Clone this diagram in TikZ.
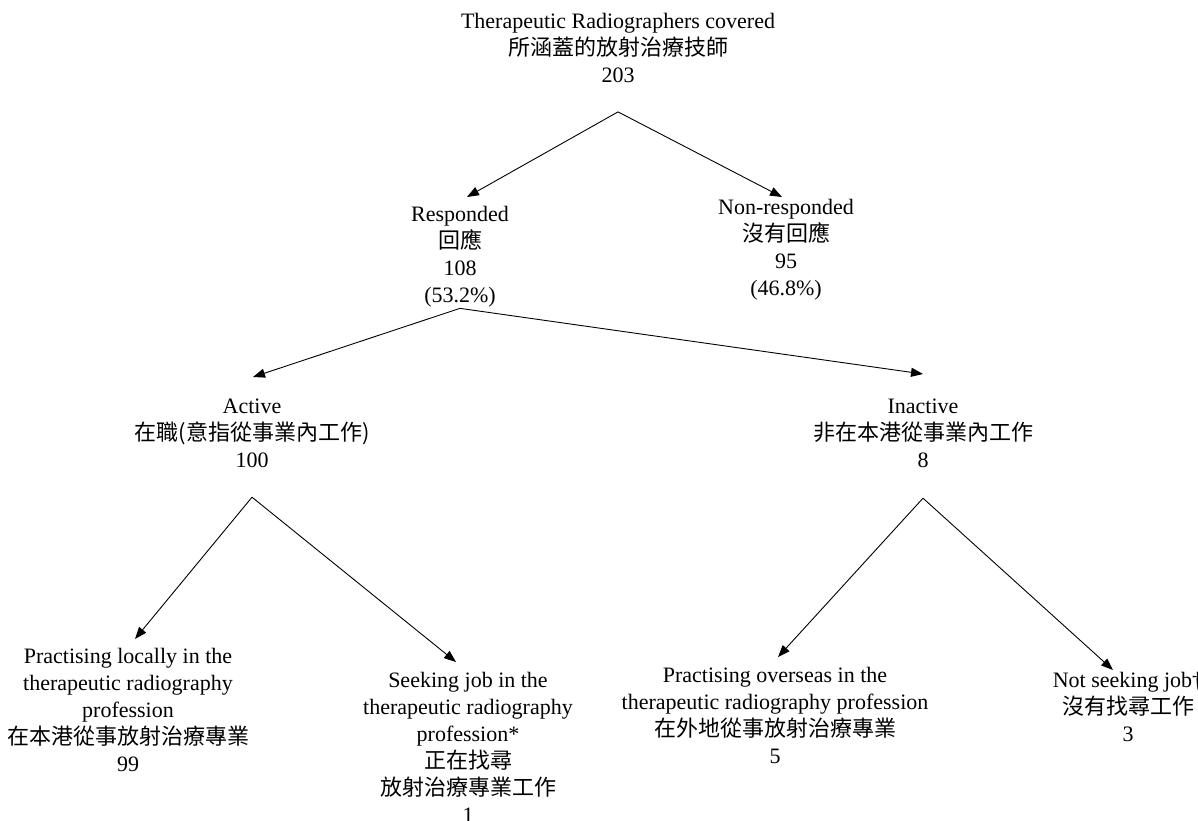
\documentclass[tikz,border=0pt]{standalone}
\usepackage{fontspec}
\setmainfont{Liberation Serif}
\newfontfamily\cjk{Noto Sans CJK TC}
\usepackage{tikz}
\usetikzlibrary{arrows,arrows.meta,calc,positioning}
\newcommand{\zh}[1]{{\cjk #1}}

\begin{document}
\begin{tikzpicture}[x=1pt, y=-1pt,
    box/.style={anchor=north, align=center, inner sep=0pt,
        font=\fontsize{22}{27}\selectfont},
    link/.style={-{Triangle[length=12pt,width=9pt]}, line width=0.9pt}]
\useasboundingbox (0,0) rectangle (1198,820);
%%%%%%%%%%%%%%%%% level 0
\node[box] (total) at (618,13) {Therapeutic Radiographers covered\\ \zh{所涵蓋的放射治療技師}\\ 203};
%%%%%%%%%%%%%%%%% level 1
\node[box] (resp) at (460,206) {Responded\\ \zh{回應}\\ 108\\ (53.2\%)};
\node[box] (nonresp) at (786,199) {Non-responded\\ \zh{沒有回應}\\ 95\\ (46.8\%)};
%%%%%%%%%%%%%%%%% level 2
\node[box] (active) at (252,399) {Active\\ \zh{在職(意指從事業內工作)}\\ 100};
\node[box] (inactive) at (923,399) {Inactive\\ \zh{非在本港從事業內工作}\\ 8};
%%%%%%%%%%%%%%%%% level 3
\node[box] (local) at (128,648) {Practising locally in the\\ therapeutic radiography\\ profession\\ \zh{在本港從事放射治療專業}\\ 99};
\node[box] (seek) at (468,672) {Seeking job in the\\ therapeutic radiography\\ profession*\\ \zh{正在找尋}\\ \zh{放射治療專業工作}\\ 1};
\node[box] (overseas) at (775,667) {Practising overseas in the\\ therapeutic radiography profession\\ \zh{在外地從事放射治療專業}\\ 5};
\node[box] (notseek) at (1128,672) {Not seeking job\dag\\ \zh{沒有找尋工作}\\ 3};

%%%%%%%%%%%%%%%%%%%%%%%%%%%%%%%%%%%%%%%%%%%%%%%%%%%%%%%%%%%%%%%
\draw[link] ([yshift=-29pt]total.south) -- ([xshift=7pt,yshift=9pt]resp.north);
\draw[link] ([yshift=-29pt]total.south) -- ([xshift=-4pt,yshift=2pt]nonresp.north);
\draw[link] ([yshift=-1pt]resp.south) -- ([xshift=1pt,yshift=22pt]active.north);
\draw[link] ([yshift=-1pt]resp.south) -- ([yshift=25pt]inactive.north);
\draw[link] ([yshift=-29pt]active.south) -- ([xshift=7pt,yshift=9pt]local.north);
\draw[link] ([yshift=-29pt]active.south) -- ([xshift=-12pt,yshift=10pt]seek.north);
\draw[link] ([yshift=-30pt]inactive.south) -- ([xshift=3pt,yshift=10pt]overseas.north);
\draw[link] ([yshift=-30pt]inactive.south) -- ([xshift=-15pt,yshift=2pt]notseek.north);
\end{tikzpicture}
\end{document}
